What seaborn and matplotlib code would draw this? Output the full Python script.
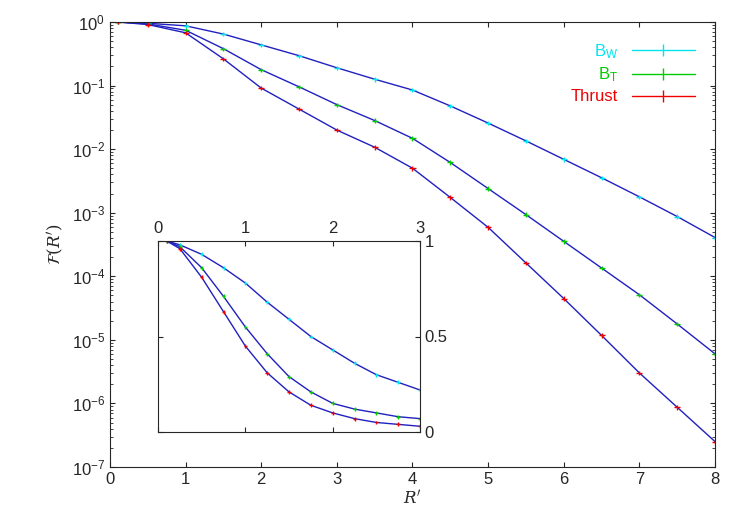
import numpy as np
import matplotlib
matplotlib.use("Agg")
import matplotlib.pyplot as plt
import seaborn as sns

sns.set_style("ticks")
plt.rcParams["font.family"] = ["Liberation Sans", "DejaVu Sans"]
plt.rcParams["mathtext.fontset"] = "dejavuserif"

# main panel: R' and log10 of F(R')
r_main = [0.1, 0.5, 1.0, 1.5, 2.0, 2.5, 3.0, 3.5, 4.0, 4.5, 5.0, 5.5, 6.0, 6.5, 7.0, 7.5, 8.0]
log_bw = [0.0, -0.02, -0.06, -0.19, -0.36, -0.53, -0.72, -0.90, -1.07, -1.32, -1.59, -1.87, -2.16, -2.45, -2.75, -3.06, -3.39]
log_bt = [0.0, -0.03, -0.13, -0.42, -0.75, -1.02, -1.30, -1.55, -1.83, -2.21, -2.62, -3.03, -3.45, -3.87, -4.29, -4.75, -5.22]
log_th = [0.0, -0.04, -0.17, -0.58, -1.04, -1.37, -1.70, -1.97, -2.30, -2.76, -3.23, -3.79, -4.35, -4.93, -5.52, -6.06, -6.60]

# inset panel: linear scale
r_ins = [0.1, 0.25, 0.5, 0.75, 1.0, 1.25, 1.5, 1.75, 2.0, 2.25, 2.5, 2.75, 3.0]
ins_bw = [1.0, 0.98, 0.93, 0.86, 0.78, 0.68, 0.59, 0.50, 0.43, 0.36, 0.30, 0.26, 0.22]
ins_bt = [1.0, 0.97, 0.86, 0.71, 0.55, 0.41, 0.29, 0.21, 0.15, 0.12, 0.10, 0.08, 0.07]
ins_th = [1.0, 0.96, 0.81, 0.63, 0.45, 0.31, 0.21, 0.14, 0.10, 0.07, 0.05, 0.04, 0.03]

labels = ["B$_\\mathregular{W}$", "B$_\\mathregular{T}$", "Thrust"]
colors = ["#00e5ee", "#00cc00", "#ee0000"]
fit_color = "#2020c0"

fig = plt.figure(figsize=(7.47, 5.23), dpi=100)
ax = fig.add_axes([110 / 747, 1 - 467 / 523, 605 / 747, 445 / 523])

for vals, lab, col in zip([log_bw, log_bt, log_th], labels, colors):
    y = 10 ** np.array(vals)
    ax.plot(r_main, y, color=fit_color, lw=1)
    ax.errorbar(r_main, y, xerr=0.04, yerr=y * 0.08, fmt="none", ecolor=col, lw=1)

ax.set_yscale("log")
ax.set_xlim(0, 8)
ax.set_ylim(1e-7, 1)
ax.set_xlabel("$R'$", fontsize=12, labelpad=2)
ax.set_ylabel("$\\mathcal{F}(R')$", fontsize=12)
ax.tick_params(direction="in", which="both", top=True, right=True, labelsize=12)

handles = [plt.Line2D([], [], color=c, marker="|", markersize=8, lw=1) for c in colors]
ax.legend(handles, labels, loc="upper right", frameon=False, markerfirst=False,
          labelcolor=colors, fontsize=12, handlelength=3.8, borderaxespad=0.8,
          labelspacing=0.3)

ins = fig.add_axes([158 / 747, 1 - 432 / 523, 262 / 747, 191 / 523])
for vals, col in zip([ins_bw, ins_bt, ins_th], colors):
    ins.plot(r_ins, vals, color=fit_color, lw=1)
    ins.errorbar(r_ins, vals, xerr=0.02, yerr=0.01, fmt="none", ecolor=col, lw=1)
ins.set_xlim(0, 3)
ins.set_ylim(0, 1)
ins.set_xticks([0, 1, 2, 3])
ins.set_yticks([0, 0.5, 1])
ins.set_yticklabels(["0", "0.5", "1"])
ins.xaxis.tick_top()
ins.yaxis.tick_right()
ins.tick_params(direction="in", labelsize=12, bottom=True, left=True)

fig.savefig("out.png", dpi=100)
